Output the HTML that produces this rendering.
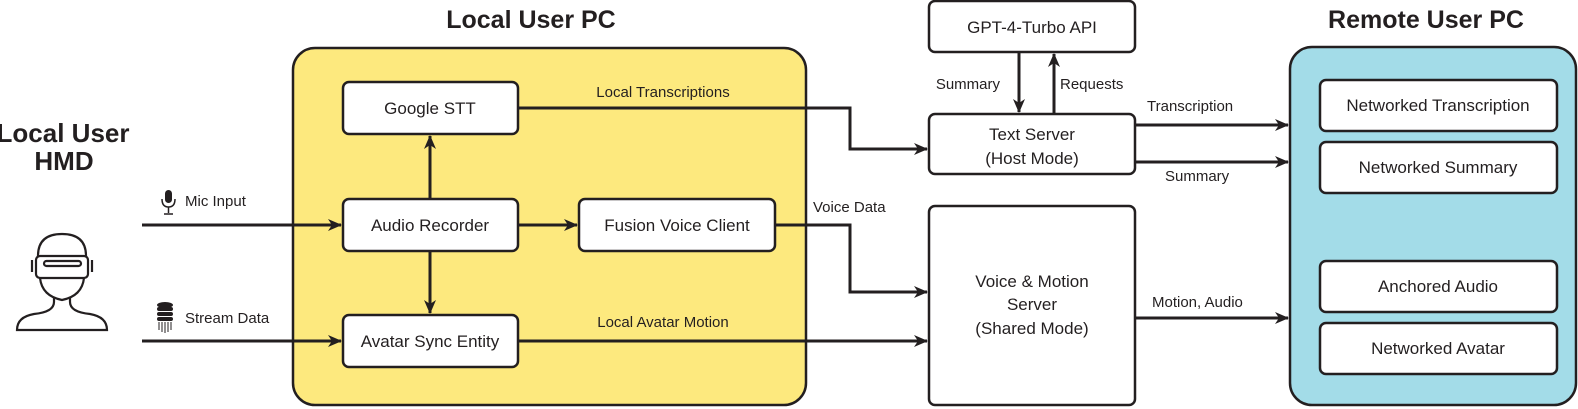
<!DOCTYPE html>
<html><head><meta charset="utf-8"><style>
body{margin:0;background:#fff;}
svg{display:block;font-family:"Liberation Sans",Arial,sans-serif;}
</style></head><body>
<svg width="1578" height="409" viewBox="0 0 1578 409" xmlns="http://www.w3.org/2000/svg">
<defs>
<marker id="a" markerWidth="14" markerHeight="12" refX="13" refY="6" orient="auto" markerUnits="userSpaceOnUse" viewBox="0 0 14 12">
<path d="M0,0 L14,6 L0,12 L4,6 z" fill="#231f20"/></marker>
</defs>
<g fill="#231f20">
<text x="531" y="28" font-size="25" font-weight="bold" text-anchor="middle">Local User PC</text>
<text x="1426" y="28" font-size="25" font-weight="bold" text-anchor="middle">Remote User PC</text>
<text x="63" y="142" font-size="26" font-weight="bold" text-anchor="middle">Local User</text>
<text x="64" y="170" font-size="26" font-weight="bold" text-anchor="middle">HMD</text>
</g>
<rect x="293" y="48" width="513" height="357" rx="22" fill="#fde97e" stroke="#231f20" stroke-width="2.5"/>
<rect x="1290" y="47" width="286" height="358" rx="22" fill="#a3dce8" stroke="#231f20" stroke-width="2.5"/>
<g stroke="#231f20" stroke-width="2.5" fill="#fff">
<rect x="343" y="82" width="175" height="52" rx="6"/>
<rect x="343" y="199" width="175" height="52" rx="6"/>
<rect x="579" y="199" width="196" height="52" rx="6"/>
<rect x="343" y="315" width="175" height="52" rx="6"/>
<rect x="929" y="1" width="206" height="51" rx="6"/>
<rect x="929" y="114" width="206" height="60" rx="6"/>
<rect x="929" y="206" width="206" height="199" rx="6"/>
<rect x="1320" y="80" width="237" height="51" rx="6"/>
<rect x="1320" y="142" width="237" height="51" rx="6"/>
<rect x="1320" y="261" width="237" height="51" rx="6"/>
<rect x="1320" y="323" width="237" height="51" rx="6"/>
</g>
<g stroke="#231f20" stroke-width="3" fill="none" marker-end="url(#a)">
<path d="M142,225 H341"/>
<path d="M142,341 H341"/>
<path d="M430,199 V136"/>
<path d="M430,251 V313"/>
<path d="M518,225 H577"/>
<path d="M518,108 H850 V149 H927"/>
<path d="M775,225 H850 V292 H927"/>
<path d="M518,341 H927"/>
<path d="M1019,52 V112"/>
<path d="M1054,114 V54"/>
<path d="M1135,125 H1288"/>
<path d="M1135,162 H1288"/>
<path d="M1135,318 H1288"/>
</g>
<g fill="#231f20" font-size="17" text-anchor="middle">
<text x="430" y="114">Google STT</text>
<text x="430" y="231">Audio Recorder</text>
<text x="677" y="231">Fusion Voice Client</text>
<text x="430" y="347">Avatar Sync Entity</text>
<text x="1032" y="33">GPT-4-Turbo API</text>
<text x="1032" y="140">Text Server</text>
<text x="1032" y="164">(Host Mode)</text>
<text x="1032" y="287">Voice &amp; Motion</text>
<text x="1032" y="310">Server</text>
<text x="1032" y="334">(Shared Mode)</text>
<text x="1438" y="111">Networked Transcription</text>
<text x="1438" y="173">Networked Summary</text>
<text x="1438" y="292">Anchored Audio</text>
<text x="1438" y="354">Networked Avatar</text>
</g>
<g fill="#231f20" font-size="15">
<text x="663" y="97" text-anchor="middle">Local Transcriptions</text>
<text x="663" y="327" text-anchor="middle">Local Avatar Motion</text>
<text x="813" y="212">Voice Data</text>
<text x="1000" y="89" text-anchor="end">Summary</text>
<text x="1060" y="89">Requests</text>
<text x="1147" y="111">Transcription</text>
<text x="1165" y="181">Summary</text>
<text x="1152" y="307">Motion, Audio</text>
<text x="185" y="206">Mic Input</text>
<text x="185" y="323">Stream Data</text>
</g>
<g fill="#231f20" stroke="#231f20">
<rect x="165" y="190" width="7" height="13" rx="3.5" stroke="none"/>
<path d="M162,199 q0,8 6.5,8 q6.5,0 6.5,-8" fill="none" stroke-width="1.5"/>
<path d="M168.5,207 V213 M164,214 H173" stroke-width="1.5"/>
</g>
<g fill="#231f20">
<ellipse cx="165" cy="305" rx="8" ry="3"/>
<rect x="157" y="307" width="16" height="4" rx="2"/>
<rect x="157" y="312" width="16" height="4" rx="2"/>
<rect x="157" y="317" width="16" height="4" rx="2"/>
<path d="M159,322 V330 M162,322 V332 M165,322 V333 M168,322 V332 M171,322 V330" stroke="#231f20" stroke-width="1"/>
</g>
<g fill="none" stroke="#231f20" stroke-width="2.2">
<path d="M38,256 q0,-22 24,-22 q24,0 24,22"/>
<rect x="36" y="256" width="52" height="22" rx="4"/>
<rect x="44" y="261" width="37" height="5" rx="2.5"/>
<path d="M32,260 v12 M92,260 v12"/>
<path d="M40,278 q2,18 22,22 q20,-4 22,-22"/>
<path d="M54,298 v4 q0,10 -20,12 q-17,3 -17,16 h90 q0,-13 -17,-16 q-20,-2 -20,-12 v-4"/>
</g>
</svg>
</body></html>
